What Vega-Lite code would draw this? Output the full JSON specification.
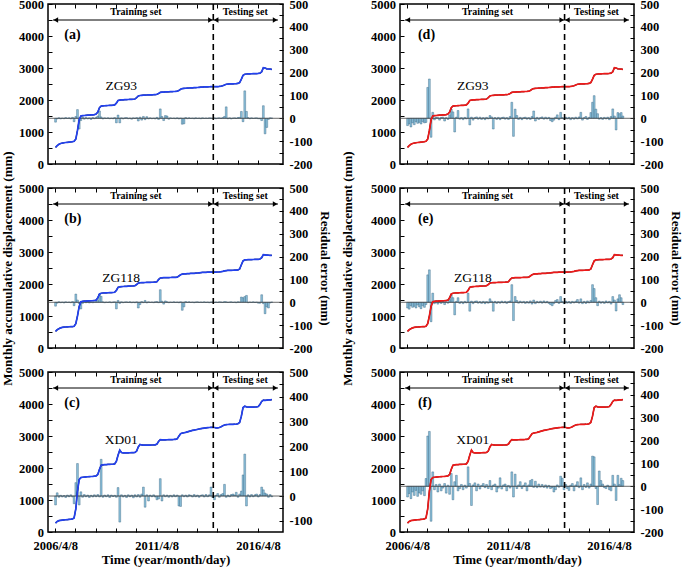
{
"$schema":"https://vega.github.io/schema/vega-lite/v6.json",
"padding":{"left":0,"top":-3,"right":2,"bottom":2},
"background":"white",
"datasets":{"m":[
{"t":"2006-04-15","a":520,"b":520,"c":280,"ra":-17,"rb":-17,"rc":-36,"rd":-32,"re":-25,"rf":-47},
{"t":"2006-05-15","a":575,"b":570,"c":330,"ra":-3,"rb":-4,"rc":13,"rd":-25,"re":-30,"rf":-32},
{"t":"2006-06-15","a":615,"b":605,"c":355,"ra":2,"rb":2,"rc":-5,"rd":-38,"re":-15,"rf":-54},
{"t":"2006-07-15","a":640,"b":628,"c":366,"ra":-3,"rb":-2,"rc":3,"rd":-20,"re":-22,"rf":-25},
{"t":"2006-08-15","a":655,"b":642,"c":372,"ra":1,"rb":1,"rc":-4,"rd":-28,"re":-18,"rf":-40},
{"t":"2006-09-15","a":665,"b":650,"c":377,"ra":-2,"rb":-3,"rc":2,"rd":-15,"re":-25,"rf":-18},
{"t":"2006-10-15","a":672,"b":656,"c":382,"ra":3,"rb":2,"rc":-6,"rd":-22,"re":-12,"rf":-44},
{"t":"2006-11-15","a":678,"b":660,"c":387,"ra":-1,"rb":-1,"rc":4,"rd":-18,"re":-20,"rf":-29},
{"t":"2006-12-15","a":684,"b":664,"c":392,"ra":2,"rb":1,"rc":-3,"rd":-25,"re":-28,"rf":-35},
{"t":"2007-01-15","a":690,"b":667,"c":398,"ra":-3,"rb":-2,"rc":5,"rd":-15,"re":-15,"rf":-20},
{"t":"2007-02-15","a":698,"b":670,"c":408,"ra":4,"rb":3,"rc":-4,"rd":-20,"re":-22,"rf":-41},
{"t":"2007-03-15","a":710,"b":680,"c":440,"ra":-15,"rb":-15,"rc":-31,"rd":-18,"re":-10,"rf":34},
{"t":"2007-04-15","a":780,"b":760,"c":720,"ra":8,"rb":36,"rc":54,"rd":135,"re":120,"rf":220},
{"t":"2007-05-15","a":1050,"b":1000,"c":1280,"ra":38,"rb":10,"rc":131,"rd":172,"re":142,"rf":240},
{"t":"2007-06-15","a":1380,"b":1300,"c":1640,"ra":-47,"rb":-6,"rc":-36,"rd":-83,"re":-85,"rf":-153},
{"t":"2007-07-15","a":1500,"b":1445,"c":1700,"ra":-10,"rb":-29,"rc":17,"rd":26,"re":40,"rf":63},
{"t":"2007-08-15","a":1510,"b":1458,"c":1710,"ra":5,"rb":-5,"rc":-5,"rd":-7,"re":-6,"rf":-15},
{"t":"2007-09-15","a":1515,"b":1463,"c":1716,"ra":-4,"rb":3,"rc":6,"rd":5,"re":5,"rf":8},
{"t":"2007-10-15","a":1520,"b":1467,"c":1721,"ra":3,"rb":-2,"rc":-3,"rd":3,"re":-8,"rf":-25},
{"t":"2007-11-15","a":1525,"b":1470,"c":1726,"ra":-3,"rb":2,"rc":4,"rd":-8,"re":4,"rf":10},
{"t":"2007-12-15","a":1530,"b":1473,"c":1731,"ra":2,"rb":-3,"rc":-6,"rd":4,"re":-5,"rf":-20},
{"t":"2008-01-15","a":1534,"b":1476,"c":1735,"ra":-5,"rb":1,"rc":3,"rd":5,"re":6,"rf":-8},
{"t":"2008-02-15","a":1538,"b":1479,"c":1739,"ra":3,"rb":-2,"rc":-4,"rd":-12,"re":-10,"rf":12},
{"t":"2008-03-15","a":1545,"b":1484,"c":1744,"ra":-2,"rb":2,"rc":5,"rd":3,"re":3,"rf":-30},
{"t":"2008-04-15","a":1560,"b":1495,"c":1752,"ra":4,"rb":3,"rc":-3,"rd":-5,"re":-4,"rf":5},
{"t":"2008-05-15","a":1620,"b":1570,"c":1800,"ra":10,"rb":8,"rc":6,"rd":15,"re":12,"rf":-35},
{"t":"2008-06-15","a":1760,"b":1690,"c":1960,"ra":32,"rb":36,"rc":-4,"rd":40,"re":33,"rf":56},
{"t":"2008-07-15","a":1810,"b":1712,"c":2085,"ra":6,"rb":26,"rc":148,"rd":28,"re":20,"rf":-59},
{"t":"2008-08-15","a":1815,"b":1718,"c":2098,"ra":-3,"rb":2,"rc":-5,"rd":-60,"re":-55,"rf":20},
{"t":"2008-09-15","a":1820,"b":1721,"c":2104,"ra":2,"rb":-2,"rc":4,"rd":5,"re":4,"rf":48},
{"t":"2008-10-15","a":1824,"b":1724,"c":2108,"ra":-1,"rb":1,"rc":-3,"rd":34,"re":20,"rf":-20},
{"t":"2008-11-15","a":1828,"b":1727,"c":2111,"ra":2,"rb":-1,"rc":5,"rd":-4,"re":-5,"rf":-10},
{"t":"2008-12-15","a":1831,"b":1730,"c":2114,"ra":-2,"rb":2,"rc":-6,"rd":3,"re":3,"rf":8},
{"t":"2009-01-15","a":1834,"b":1732,"c":2117,"ra":1,"rb":-2,"rc":4,"rd":-6,"re":-6,"rf":-15},
{"t":"2009-02-15","a":1837,"b":1735,"c":2120,"ra":-2,"rb":1,"rc":-2,"rd":4,"re":4,"rf":5},
{"t":"2009-03-15","a":1845,"b":1742,"c":2128,"ra":3,"rb":2,"rc":3,"rd":-3,"re":-3,"rf":-8},
{"t":"2009-04-15","a":1900,"b":1800,"c":2210,"ra":-20,"rb":-29,"rc":-5,"rd":41,"re":40,"rf":85},
{"t":"2009-05-15","a":1985,"b":1895,"c":2400,"ra":14,"rb":8,"rc":34,"rd":-29,"re":-39,"rf":12},
{"t":"2009-06-15","a":1998,"b":1913,"c":2560,"ra":-20,"rb":-5,"rc":-105,"rd":5,"re":5,"rf":-84},
{"t":"2009-07-15","a":2003,"b":1918,"c":2485,"ra":2,"rb":2,"rc":5,"rd":-8,"re":-6,"rf":6},
{"t":"2009-08-15","a":2006,"b":1922,"c":2472,"ra":-3,"rb":-2,"rc":-4,"rd":3,"re":4,"rf":15},
{"t":"2009-09-15","a":2009,"b":1925,"c":2471,"ra":2,"rb":1,"rc":3,"rd":6,"re":6,"rf":-20},
{"t":"2009-10-15","a":2012,"b":1928,"c":2472,"ra":3,"rb":2,"rc":-6,"rd":-4,"re":-4,"rf":10},
{"t":"2009-11-15","a":2015,"b":1931,"c":2474,"ra":-2,"rb":-1,"rc":5,"rd":5,"re":3,"rf":-12},
{"t":"2009-12-15","a":2018,"b":1934,"c":2476,"ra":1,"rb":2,"rc":-3,"rd":-5,"re":-5,"rf":4},
{"t":"2010-01-15","a":2021,"b":1937,"c":2478,"ra":-4,"rb":-2,"rc":4,"rd":3,"re":4,"rf":12},
{"t":"2010-02-15","a":2024,"b":1940,"c":2480,"ra":2,"rb":1,"rc":-7,"rd":-6,"re":-6,"rf":-6},
{"t":"2010-03-15","a":2030,"b":1945,"c":2486,"ra":-1,"rb":-2,"rc":5,"rd":4,"re":3,"rf":8},
{"t":"2010-04-15","a":2075,"b":1985,"c":2530,"ra":3,"rb":2,"rc":-4,"rd":-3,"re":-4,"rf":-10},
{"t":"2010-05-15","a":2125,"b":2028,"c":2660,"ra":-12,"rb":-25,"rc":6,"rd":12,"re":15,"rf":25},
{"t":"2010-06-15","a":2140,"b":2040,"c":2735,"ra":5,"rb":-10,"rc":-5,"rd":6,"re":5,"rf":-15},
{"t":"2010-07-15","a":2146,"b":2043,"c":2720,"ra":-8,"rb":3,"rc":8,"rd":-47,"re":-39,"rf":5},
{"t":"2010-08-15","a":2150,"b":2045,"c":2714,"ra":8,"rb":-2,"rc":36,"rd":3,"re":4,"rf":10},
{"t":"2010-09-15","a":2153,"b":2047,"c":2712,"ra":-6,"rb":8,"rc":-45,"rd":-5,"re":-5,"rf":-25},
{"t":"2010-10-15","a":2156,"b":2049,"c":2713,"ra":7,"rb":-3,"rc":5,"rd":4,"re":3,"rf":-8},
{"t":"2010-11-15","a":2158,"b":2051,"c":2715,"ra":-3,"rb":2,"rc":-20,"rd":-6,"re":-4,"rf":37},
{"t":"2010-12-15","a":2160,"b":2053,"c":2717,"ra":2,"rb":-1,"rc":4,"rd":3,"re":5,"rf":-12},
{"t":"2011-01-15","a":2163,"b":2055,"c":2719,"ra":-2,"rb":1,"rc":-3,"rd":5,"re":-3,"rf":6},
{"t":"2011-02-15","a":2166,"b":2057,"c":2721,"ra":1,"rb":-2,"rc":5,"rd":-4,"re":4,"rf":10},
{"t":"2011-03-15","a":2170,"b":2060,"c":2724,"ra":-3,"rb":2,"rc":-4,"rd":3,"re":-5,"rf":-20},
{"t":"2011-04-15","a":2178,"b":2070,"c":2745,"ra":4,"rb":3,"rc":-15,"rd":-5,"re":3,"rf":4},
{"t":"2011-05-15","a":2205,"b":2140,"c":2830,"ra":-5,"rb":-2,"rc":-12,"rd":8,"re":6,"rf":-8},
{"t":"2011-06-15","a":2238,"b":2188,"c":2885,"ra":41,"rb":55,"rc":70,"rd":70,"re":77,"rf":63},
{"t":"2011-07-15","a":2245,"b":2194,"c":2878,"ra":8,"rb":5,"rc":-20,"rd":-79,"re":-80,"rf":-47},
{"t":"2011-08-15","a":2248,"b":2197,"c":2879,"ra":-10,"rb":-8,"rc":5,"rd":40,"re":25,"rf":53},
{"t":"2011-09-15","a":2251,"b":2199,"c":2881,"ra":12,"rb":6,"rc":-3,"rd":12,"re":8,"rf":-10},
{"t":"2011-10-15","a":2254,"b":2200,"c":2883,"ra":10,"rb":2,"rc":4,"rd":-5,"re":-4,"rf":6},
{"t":"2011-11-15","a":2257,"b":2201,"c":2885,"ra":-4,"rb":-2,"rc":-5,"rd":4,"re":5,"rf":20},
{"t":"2011-12-15","a":2260,"b":2203,"c":2887,"ra":2,"rb":1,"rc":3,"rd":-6,"re":-3,"rf":-10},
{"t":"2012-01-15","a":2262,"b":2205,"c":2889,"ra":-1,"rb":-1,"rc":-4,"rd":3,"re":4,"rf":5},
{"t":"2012-02-15","a":2265,"b":2207,"c":2892,"ra":1,"rb":2,"rc":5,"rd":5,"re":-5,"rf":15},
{"t":"2012-03-15","a":2268,"b":2209,"c":2897,"ra":-2,"rb":-1,"rc":-3,"rd":-4,"re":3,"rf":-20},
{"t":"2012-04-15","a":2273,"b":2213,"c":2915,"ra":2,"rb":1,"rc":4,"rd":3,"re":-4,"rf":6},
{"t":"2012-05-15","a":2300,"b":2250,"c":2995,"ra":-3,"rb":-2,"rc":-40,"rd":-5,"re":6,"rf":25},
{"t":"2012-06-15","a":2335,"b":2290,"c":3070,"ra":1,"rb":2,"rc":-42,"rd":8,"re":-8,"rf":30},
{"t":"2012-07-15","a":2358,"b":2308,"c":3092,"ra":-26,"rb":-35,"rc":5,"rd":32,"re":10,"rf":-5},
{"t":"2012-08-15","a":2364,"b":2314,"c":3102,"ra":-24,"rb":-20,"rc":-3,"rd":-12,"re":-6,"rf":22},
{"t":"2012-09-15","a":2368,"b":2319,"c":3113,"ra":3,"rb":3,"rc":4,"rd":4,"re":4,"rf":-6},
{"t":"2012-10-15","a":2372,"b":2323,"c":3130,"ra":-2,"rb":-1,"rc":-4,"rd":-5,"re":-3,"rf":10},
{"t":"2012-11-15","a":2375,"b":2326,"c":3146,"ra":2,"rb":2,"rc":5,"rd":3,"re":5,"rf":-4},
{"t":"2012-12-15","a":2378,"b":2329,"c":3160,"ra":-1,"rb":-1,"rc":3,"rd":6,"re":-4,"rf":8},
{"t":"2013-01-15","a":2381,"b":2332,"c":3174,"ra":1,"rb":1,"rc":-4,"rd":-4,"re":6,"rf":-5},
{"t":"2013-02-15","a":2384,"b":2335,"c":3185,"ra":-2,"rb":-2,"rc":6,"rd":5,"re":-3,"rf":6},
{"t":"2013-03-15","a":2387,"b":2339,"c":3195,"ra":2,"rb":1,"rc":-3,"rd":-3,"re":4,"rf":-8},
{"t":"2013-04-15","a":2391,"b":2344,"c":3205,"ra":-1,"rb":2,"rc":4,"rd":4,"re":-5,"rf":4},
{"t":"2013-05-15","a":2396,"b":2350,"c":3218,"ra":1,"rb":-1,"rc":-5,"rd":-10,"re":-10,"rf":-10},
{"t":"2013-06-15","a":2401,"b":2356,"c":3230,"ra":-2,"rb":1,"rc":3,"rd":-15,"re":-15,"rf":-6},
{"t":"2013-07-15","a":2405,"b":2361,"c":3240,"ra":2,"rb":-1,"rc":5,"rd":-8,"re":-6,"rf":-25},
{"t":"2013-08-15","a":2408,"b":2364,"c":3248,"ra":-1,"rb":2,"rc":-4,"rd":5,"re":8,"rf":-15},
{"t":"2013-09-15","a":2410,"b":2366,"c":3255,"ra":1,"rb":-1,"rc":6,"rd":15,"re":12,"rf":6},
{"t":"2013-10-15","a":2412,"b":2368,"c":3260,"ra":-1,"rb":1,"rc":-3,"rd":-6,"re":-5,"rf":-4},
{"t":"2013-11-15","a":2414,"b":2369,"c":3266,"ra":2,"rb":-2,"rc":5,"rd":26,"re":25,"rf":44},
{"t":"2013-12-15","a":2416,"b":2370,"c":3271,"ra":1,"rb":1,"rc":36,"rd":3,"re":4,"rf":35},
{"t":"2014-01-15","a":2417,"b":2371,"c":3270,"ra":-1,"rb":2,"rc":-6,"rd":-4,"re":-6,"rf":-15},
{"t":"2014-02-15","a":2418,"b":2372,"c":3266,"ra":2,"rb":-1,"rc":-15,"rd":5,"re":5,"rf":8},
{"t":"2014-03-15","a":2419,"b":2373,"c":3255,"ra":-2,"rb":1,"rc":3,"rd":-3,"re":-4,"rf":-10},
{"t":"2014-04-15","a":2421,"b":2375,"c":3251,"ra":1,"rb":-1,"rc":10,"rd":4,"re":3,"rf":-18},
{"t":"2014-05-15","a":2425,"b":2379,"c":3264,"ra":2,"rb":2,"rc":-5,"rd":-6,"re":-5,"rf":5},
{"t":"2014-06-15","a":2433,"b":2386,"c":3290,"ra":-1,"rb":1,"rc":6,"rd":3,"re":4,"rf":12},
{"t":"2014-07-15","a":2445,"b":2396,"c":3320,"ra":3,"rb":-1,"rc":10,"rd":-4,"re":-3,"rf":-20},
{"t":"2014-08-15","a":2470,"b":2410,"c":3345,"ra":8,"rb":3,"rc":47,"rd":5,"re":5,"rf":6},
{"t":"2014-09-15","a":2492,"b":2420,"c":3355,"ra":50,"rb":2,"rc":-5,"rd":-3,"re":12,"rf":20},
{"t":"2014-10-15","a":2499,"b":2423,"c":3360,"ra":-2,"rb":-1,"rc":4,"rd":6,"re":-4,"rf":-6},
{"t":"2014-11-15","a":2502,"b":2425,"c":3362,"ra":2,"rb":1,"rc":-3,"rd":26,"re":15,"rf":37},
{"t":"2014-12-15","a":2504,"b":2427,"c":3364,"ra":-3,"rb":2,"rc":6,"rd":-8,"re":-6,"rf":-15},
{"t":"2015-01-15","a":2506,"b":2429,"c":3366,"ra":1,"rb":-1,"rc":8,"rd":3,"re":4,"rf":8},
{"t":"2015-02-15","a":2508,"b":2431,"c":3368,"ra":2,"rb":1,"rc":4,"rd":8,"re":-5,"rf":-5},
{"t":"2015-03-15","a":2511,"b":2433,"c":3371,"ra":-1,"rb":-2,"rc":15,"rd":-5,"re":6,"rf":15},
{"t":"2015-04-15","a":2518,"b":2440,"c":3382,"ra":3,"rb":2,"rc":-5,"rd":4,"re":-3,"rf":-8},
{"t":"2015-05-15","a":2545,"b":2470,"c":3425,"ra":4,"rb":1,"rc":8,"rd":25,"re":8,"rf":10},
{"t":"2015-06-15","a":2650,"b":2600,"c":3620,"ra":30,"rb":23,"rc":20,"rd":70,"re":77,"rf":132},
{"t":"2015-07-15","a":2770,"b":2720,"c":3890,"ra":-15,"rb":20,"rc":85,"rd":99,"re":60,"rf":129},
{"t":"2015-08-15","a":2805,"b":2752,"c":3930,"ra":120,"rb":25,"rc":169,"rd":40,"re":20,"rf":-10},
{"t":"2015-09-15","a":2812,"b":2757,"c":3912,"ra":30,"rb":30,"rc":-40,"rd":20,"re":-15,"rf":-80},
{"t":"2015-10-15","a":2816,"b":2760,"c":3904,"ra":3,"rb":-2,"rc":5,"rd":-4,"re":5,"rf":67},
{"t":"2015-11-15","a":2819,"b":2762,"c":3900,"ra":-2,"rb":1,"rc":-4,"rd":3,"re":-4,"rf":25},
{"t":"2015-12-15","a":2821,"b":2764,"c":3902,"ra":2,"rb":-1,"rc":6,"rd":-5,"re":3,"rf":10},
{"t":"2016-01-15","a":2823,"b":2766,"c":3904,"ra":-1,"rb":2,"rc":-3,"rd":4,"re":-5,"rf":-6},
{"t":"2016-02-15","a":2825,"b":2768,"c":3906,"ra":1,"rb":-1,"rc":5,"rd":-3,"re":6,"rf":-10},
{"t":"2016-03-15","a":2827,"b":2770,"c":3909,"ra":2,"rb":1,"rc":8,"rd":5,"re":-3,"rf":5},
{"t":"2016-04-15","a":2830,"b":2772,"c":3922,"ra":-2,"rb":-4,"rc":-4,"rd":-6,"re":4,"rf":-15},
{"t":"2016-05-15","a":2838,"b":2780,"c":3985,"ra":-2,"rb":-4,"rc":6,"rd":8,"re":-8,"rf":-20},
{"t":"2016-06-15","a":2880,"b":2820,"c":4080,"ra":-10,"rb":33,"rc":36,"rd":41,"re":25,"rf":48},
{"t":"2016-07-15","a":3010,"b":2920,"c":4122,"ra":55,"rb":-6,"rc":25,"rd":10,"re":10,"rf":10},
{"t":"2016-08-15","a":3000,"b":2912,"c":4112,"ra":-68,"rb":-50,"rc":12,"rd":-51,"re":-38,"rf":-62},
{"t":"2016-09-15","a":2975,"b":2905,"c":4120,"ra":-40,"rb":-20,"rc":8,"rd":25,"re":15,"rf":48},
{"t":"2016-10-15","a":2968,"b":2900,"c":4126,"ra":-5,"rb":-25,"rc":-5,"rd":20,"re":33,"rf":8},
{"t":"2016-11-15","a":2964,"b":2897,"c":4131,"ra":2,"rb":-3,"rc":6,"rd":25,"re":20,"rf":35},
{"t":"2016-12-15","a":2960,"b":2894,"c":4136,"ra":1,"rb":1,"rc":-3,"rd":10,"re":-10,"rf":25}
]},
"columns":2,
"spacing":{"row":24,"column":117},
"bounds":"flush",
"concat":[
{"width":235,"height":160,
 "resolve":{"scale":{"y":"independent"},"axis":{"x":"independent","y":"independent"}},
 "layer":[
  {"layer":[
   {"data":{"name":"m"},"mark":{"type":"bar","size":1.8,"fill":"#8ec3dd","stroke":"#2d5c78","strokeWidth":0.4},
    "encoding":{"x":{"field":"t","type":"temporal","scale":{"type":"utc","domain":[{"year":2006,"month":2,"date":28,"utc":true},{"year":2017,"month":4,"date":5,"utc":true}]},
      "axis":{"orient":"bottom","tickCount":100,"values":[{"year":2006,"month":4,"date":8,"utc":true},{"year":2007,"month":4,"date":8,"utc":true},{"year":2008,"month":4,"date":8,"utc":true},{"year":2009,"month":4,"date":8,"utc":true},{"year":2010,"month":4,"date":8,"utc":true},{"year":2011,"month":4,"date":8,"utc":true},{"year":2012,"month":4,"date":8,"utc":true},{"year":2013,"month":4,"date":8,"utc":true},{"year":2014,"month":4,"date":8,"utc":true},{"year":2015,"month":4,"date":8,"utc":true},{"year":2016,"month":4,"date":8,"utc":true}],"labels":false,"title":null}},
     "y":{"field":"ra","type":"quantitative","scale":{"domain":[-200,500],"nice":false},
      "axis":{"orient":"right","tickCount":100,"values":[-200,-150,-100,-50,0,50,100,150,200,250,300,350,400,450,500],"labelExpr":"datum.value % 100 == 0 ? '' + datum.value : ''","labelOverlap":false,"title":null}}}},
   {"data":{"values":[{}]},"mark":{"type":"rule","color":"#404040","strokeWidth":0.8},"encoding":{"y":{"datum":0,"type":"quantitative"}}}
  ]},
  {"layer":[
   {"data":{"name":"m"},"mark":{"type":"line","color":"black","strokeWidth":1.2},
    "encoding":{"x":{"field":"t","type":"temporal","axis":{"orient":"top","tickCount":100,"values":[{"year":2006,"month":4,"date":8,"utc":true},{"year":2007,"month":4,"date":8,"utc":true},{"year":2008,"month":4,"date":8,"utc":true},{"year":2009,"month":4,"date":8,"utc":true},{"year":2010,"month":4,"date":8,"utc":true},{"year":2011,"month":4,"date":8,"utc":true},{"year":2012,"month":4,"date":8,"utc":true},{"year":2013,"month":4,"date":8,"utc":true},{"year":2014,"month":4,"date":8,"utc":true},{"year":2015,"month":4,"date":8,"utc":true},{"year":2016,"month":4,"date":8,"utc":true}],"labels":false,"title":null}},
     "y":{"field":"a","type":"quantitative","scale":{"domain":[0,5000],"nice":false},
      "axis":{"orient":"left","tickCount":100,"values":[0,500,1000,1500,2000,2500,3000,3500,4000,4500,5000],"labelExpr":"datum.value % 1000 == 0 ? '' + datum.value : ''","labelOverlap":false,"title":null}}}},
   {"data":{"name":"m"},"mark":{"type":"line","color":"#2342f0","strokeWidth":1.7},
    "encoding":{"x":{"field":"t","type":"temporal"},"y":{"field":"a","type":"quantitative"}}},
   {"data":{"values":[{}]},"mark":{"type":"rule","color":"black","strokeWidth":1.6,"strokeDash":[6,4]},
    "encoding":{"x":{"datum":{"year":2014,"month":1,"date":25,"utc":true},"type":"temporal"}}},
   {"data":{"values":[{}]},"mark":{"type":"rule","color":"black","strokeWidth":1},
    "encoding":{"x":{"datum":{"year":2006,"month":2,"date":28,"utc":true},"type":"temporal"},"x2":{"datum":{"year":2017,"month":4,"date":5,"utc":true}},"y":{"datum":4500,"type":"quantitative"}}},
   {"data":{"values":[{}]},"mark":{"type":"point","shape":"triangle-left","filled":true,"color":"black","opacity":1,"size":28},
    "encoding":{"x":{"datum":{"year":2006,"month":4,"date":20,"utc":true},"type":"temporal"},"y":{"datum":4500,"type":"quantitative"}}},
   {"data":{"values":[{}]},"mark":{"type":"point","shape":"triangle-right","filled":true,"color":"black","opacity":1,"size":28},
    "encoding":{"x":{"datum":{"year":2013,"month":12,"date":4,"utc":true},"type":"temporal"},"y":{"datum":4500,"type":"quantitative"}}},
   {"data":{"values":[{}]},"mark":{"type":"point","shape":"triangle-left","filled":true,"color":"black","opacity":1,"size":28},
    "encoding":{"x":{"datum":{"year":2014,"month":3,"date":17,"utc":true},"type":"temporal"},"y":{"datum":4500,"type":"quantitative"}}},
   {"data":{"values":[{}]},"mark":{"type":"point","shape":"triangle-right","filled":true,"color":"black","opacity":1,"size":28},
    "encoding":{"x":{"datum":{"year":2017,"month":2,"date":12,"utc":true},"type":"temporal"},"y":{"datum":4500,"type":"quantitative"}}},
   {"data":{"values":[{}]},"mark":{"type":"text","text":"Training set","font":"Liberation Serif","fontWeight":"bold","fontSize":10,"color":"black"},
    "encoding":{"x":{"datum":{"year":2010,"month":4,"date":1,"utc":true},"type":"temporal"},"y":{"datum":4740,"type":"quantitative"}}},
   {"data":{"values":[{}]},"mark":{"type":"text","text":"Testing set","font":"Liberation Serif","fontWeight":"bold","fontSize":10,"color":"black"},
    "encoding":{"x":{"datum":{"year":2015,"month":8,"date":25,"utc":true},"type":"temporal"},"y":{"datum":4740,"type":"quantitative"}}},
   {"data":{"values":[{}]},"mark":{"type":"text","text":"(a)","font":"Liberation Serif","fontWeight":"bold","fontSize":14,"align":"left","color":"black"},
    "encoding":{"x":{"datum":{"year":2006,"month":9,"date":20,"utc":true},"type":"temporal"},"y":{"datum":4040,"type":"quantitative"}}},
   {"data":{"values":[{}]},"mark":{"type":"text","text":"ZG93","font":"Liberation Serif","fontSize":13.5,"color":"black"},
    "encoding":{"x":{"datum":{"year":2009,"month":7,"date":10,"utc":true},"type":"temporal"},"y":{"datum":2430,"type":"quantitative"}}}
  ]}
 ]},
{"width":234,"height":160,
 "resolve":{"scale":{"y":"independent"},"axis":{"x":"independent","y":"independent"}},
 "layer":[
  {"layer":[
   {"data":{"name":"m"},"mark":{"type":"bar","size":1.8,"fill":"#8ec3dd","stroke":"#2d5c78","strokeWidth":0.4},
    "encoding":{"x":{"field":"t","type":"temporal","scale":{"type":"utc","domain":[{"year":2006,"month":2,"date":28,"utc":true},{"year":2017,"month":4,"date":5,"utc":true}]},
      "axis":{"orient":"bottom","tickCount":100,"values":[{"year":2006,"month":4,"date":8,"utc":true},{"year":2007,"month":4,"date":8,"utc":true},{"year":2008,"month":4,"date":8,"utc":true},{"year":2009,"month":4,"date":8,"utc":true},{"year":2010,"month":4,"date":8,"utc":true},{"year":2011,"month":4,"date":8,"utc":true},{"year":2012,"month":4,"date":8,"utc":true},{"year":2013,"month":4,"date":8,"utc":true},{"year":2014,"month":4,"date":8,"utc":true},{"year":2015,"month":4,"date":8,"utc":true},{"year":2016,"month":4,"date":8,"utc":true}],"labels":false,"title":null}},
     "y":{"field":"rd","type":"quantitative","scale":{"domain":[-200,500],"nice":false},
      "axis":{"orient":"right","tickCount":100,"values":[-200,-150,-100,-50,0,50,100,150,200,250,300,350,400,450,500],"labelExpr":"datum.value % 100 == 0 ? '' + datum.value : ''","labelOverlap":false,"title":null}}}},
   {"data":{"values":[{}]},"mark":{"type":"rule","color":"#404040","strokeWidth":0.8},"encoding":{"y":{"datum":0,"type":"quantitative"}}}
  ]},
  {"layer":[
   {"data":{"name":"m"},"mark":{"type":"line","color":"black","strokeWidth":1.2},
    "encoding":{"x":{"field":"t","type":"temporal","axis":{"orient":"top","tickCount":100,"values":[{"year":2006,"month":4,"date":8,"utc":true},{"year":2007,"month":4,"date":8,"utc":true},{"year":2008,"month":4,"date":8,"utc":true},{"year":2009,"month":4,"date":8,"utc":true},{"year":2010,"month":4,"date":8,"utc":true},{"year":2011,"month":4,"date":8,"utc":true},{"year":2012,"month":4,"date":8,"utc":true},{"year":2013,"month":4,"date":8,"utc":true},{"year":2014,"month":4,"date":8,"utc":true},{"year":2015,"month":4,"date":8,"utc":true},{"year":2016,"month":4,"date":8,"utc":true}],"labels":false,"title":null}},
     "y":{"field":"a","type":"quantitative","scale":{"domain":[0,5000],"nice":false},
      "axis":{"orient":"left","tickCount":100,"values":[0,500,1000,1500,2000,2500,3000,3500,4000,4500,5000],"labelExpr":"datum.value % 1000 == 0 ? '' + datum.value : ''","labelOverlap":false,"title":null}}}},
   {"data":{"name":"m"},"mark":{"type":"line","color":"#ee1a1a","strokeWidth":1.7},
    "encoding":{"x":{"field":"t","type":"temporal"},"y":{"field":"a","type":"quantitative"}}},
   {"data":{"values":[{}]},"mark":{"type":"rule","color":"black","strokeWidth":1.6,"strokeDash":[6,4]},
    "encoding":{"x":{"datum":{"year":2014,"month":1,"date":25,"utc":true},"type":"temporal"}}},
   {"data":{"values":[{}]},"mark":{"type":"rule","color":"black","strokeWidth":1},
    "encoding":{"x":{"datum":{"year":2006,"month":2,"date":28,"utc":true},"type":"temporal"},"x2":{"datum":{"year":2017,"month":4,"date":5,"utc":true}},"y":{"datum":4500,"type":"quantitative"}}},
   {"data":{"values":[{}]},"mark":{"type":"point","shape":"triangle-left","filled":true,"color":"black","opacity":1,"size":28},
    "encoding":{"x":{"datum":{"year":2006,"month":4,"date":20,"utc":true},"type":"temporal"},"y":{"datum":4500,"type":"quantitative"}}},
   {"data":{"values":[{}]},"mark":{"type":"point","shape":"triangle-right","filled":true,"color":"black","opacity":1,"size":28},
    "encoding":{"x":{"datum":{"year":2013,"month":12,"date":4,"utc":true},"type":"temporal"},"y":{"datum":4500,"type":"quantitative"}}},
   {"data":{"values":[{}]},"mark":{"type":"point","shape":"triangle-left","filled":true,"color":"black","opacity":1,"size":28},
    "encoding":{"x":{"datum":{"year":2014,"month":3,"date":17,"utc":true},"type":"temporal"},"y":{"datum":4500,"type":"quantitative"}}},
   {"data":{"values":[{}]},"mark":{"type":"point","shape":"triangle-right","filled":true,"color":"black","opacity":1,"size":28},
    "encoding":{"x":{"datum":{"year":2017,"month":2,"date":12,"utc":true},"type":"temporal"},"y":{"datum":4500,"type":"quantitative"}}},
   {"data":{"values":[{}]},"mark":{"type":"text","text":"Training set","font":"Liberation Serif","fontWeight":"bold","fontSize":10,"color":"black"},
    "encoding":{"x":{"datum":{"year":2010,"month":4,"date":1,"utc":true},"type":"temporal"},"y":{"datum":4740,"type":"quantitative"}}},
   {"data":{"values":[{}]},"mark":{"type":"text","text":"Testing set","font":"Liberation Serif","fontWeight":"bold","fontSize":10,"color":"black"},
    "encoding":{"x":{"datum":{"year":2015,"month":8,"date":25,"utc":true},"type":"temporal"},"y":{"datum":4740,"type":"quantitative"}}},
   {"data":{"values":[{}]},"mark":{"type":"text","text":"(d)","font":"Liberation Serif","fontWeight":"bold","fontSize":14,"align":"left","color":"black"},
    "encoding":{"x":{"datum":{"year":2006,"month":10,"date":20,"utc":true},"type":"temporal"},"y":{"datum":4040,"type":"quantitative"}}},
   {"data":{"values":[{}]},"mark":{"type":"text","text":"ZG93","font":"Liberation Serif","fontSize":13.5,"color":"black"},
    "encoding":{"x":{"datum":{"year":2009,"month":7,"date":10,"utc":true},"type":"temporal"},"y":{"datum":2430,"type":"quantitative"}}}
  ]}
 ]},
{"width":235,"height":160,
 "resolve":{"scale":{"y":"independent"},"axis":{"x":"independent","y":"independent"}},
 "layer":[
  {"layer":[
   {"data":{"name":"m"},"mark":{"type":"bar","size":1.8,"fill":"#8ec3dd","stroke":"#2d5c78","strokeWidth":0.4},
    "encoding":{"x":{"field":"t","type":"temporal","scale":{"type":"utc","domain":[{"year":2006,"month":2,"date":28,"utc":true},{"year":2017,"month":4,"date":5,"utc":true}]},
      "axis":{"orient":"bottom","tickCount":100,"values":[{"year":2006,"month":4,"date":8,"utc":true},{"year":2007,"month":4,"date":8,"utc":true},{"year":2008,"month":4,"date":8,"utc":true},{"year":2009,"month":4,"date":8,"utc":true},{"year":2010,"month":4,"date":8,"utc":true},{"year":2011,"month":4,"date":8,"utc":true},{"year":2012,"month":4,"date":8,"utc":true},{"year":2013,"month":4,"date":8,"utc":true},{"year":2014,"month":4,"date":8,"utc":true},{"year":2015,"month":4,"date":8,"utc":true},{"year":2016,"month":4,"date":8,"utc":true}],"labels":false,"title":null}},
     "y":{"field":"rb","type":"quantitative","scale":{"domain":[-200,500],"nice":false},
      "axis":{"orient":"right","tickCount":100,"values":[-200,-150,-100,-50,0,50,100,150,200,250,300,350,400,450,500],"labelExpr":"datum.value % 100 == 0 ? '' + datum.value : ''","labelOverlap":false,"title":"Residual error (mm)","titlePadding":6}}}},
   {"data":{"values":[{}]},"mark":{"type":"rule","color":"#404040","strokeWidth":0.8},"encoding":{"y":{"datum":0,"type":"quantitative"}}}
  ]},
  {"layer":[
   {"data":{"name":"m"},"mark":{"type":"line","color":"black","strokeWidth":1.2},
    "encoding":{"x":{"field":"t","type":"temporal","axis":{"orient":"top","tickCount":100,"values":[{"year":2006,"month":4,"date":8,"utc":true},{"year":2007,"month":4,"date":8,"utc":true},{"year":2008,"month":4,"date":8,"utc":true},{"year":2009,"month":4,"date":8,"utc":true},{"year":2010,"month":4,"date":8,"utc":true},{"year":2011,"month":4,"date":8,"utc":true},{"year":2012,"month":4,"date":8,"utc":true},{"year":2013,"month":4,"date":8,"utc":true},{"year":2014,"month":4,"date":8,"utc":true},{"year":2015,"month":4,"date":8,"utc":true},{"year":2016,"month":4,"date":8,"utc":true}],"labels":false,"title":null}},
     "y":{"field":"b","type":"quantitative","scale":{"domain":[0,5000],"nice":false},
      "axis":{"orient":"left","tickCount":100,"values":[0,500,1000,1500,2000,2500,3000,3500,4000,4500,5000],"labelExpr":"datum.value % 1000 == 0 ? '' + datum.value : ''","labelOverlap":false,"title":"Monthly accumulative displacement (mm)","titlePadding":4}}}},
   {"data":{"name":"m"},"mark":{"type":"line","color":"#2342f0","strokeWidth":1.7},
    "encoding":{"x":{"field":"t","type":"temporal"},"y":{"field":"b","type":"quantitative"}}},
   {"data":{"values":[{}]},"mark":{"type":"rule","color":"black","strokeWidth":1.6,"strokeDash":[6,4]},
    "encoding":{"x":{"datum":{"year":2014,"month":1,"date":25,"utc":true},"type":"temporal"}}},
   {"data":{"values":[{}]},"mark":{"type":"rule","color":"black","strokeWidth":1},
    "encoding":{"x":{"datum":{"year":2006,"month":2,"date":28,"utc":true},"type":"temporal"},"x2":{"datum":{"year":2017,"month":4,"date":5,"utc":true}},"y":{"datum":4500,"type":"quantitative"}}},
   {"data":{"values":[{}]},"mark":{"type":"point","shape":"triangle-left","filled":true,"color":"black","opacity":1,"size":28},
    "encoding":{"x":{"datum":{"year":2006,"month":4,"date":20,"utc":true},"type":"temporal"},"y":{"datum":4500,"type":"quantitative"}}},
   {"data":{"values":[{}]},"mark":{"type":"point","shape":"triangle-right","filled":true,"color":"black","opacity":1,"size":28},
    "encoding":{"x":{"datum":{"year":2013,"month":12,"date":4,"utc":true},"type":"temporal"},"y":{"datum":4500,"type":"quantitative"}}},
   {"data":{"values":[{}]},"mark":{"type":"point","shape":"triangle-left","filled":true,"color":"black","opacity":1,"size":28},
    "encoding":{"x":{"datum":{"year":2014,"month":3,"date":17,"utc":true},"type":"temporal"},"y":{"datum":4500,"type":"quantitative"}}},
   {"data":{"values":[{}]},"mark":{"type":"point","shape":"triangle-right","filled":true,"color":"black","opacity":1,"size":28},
    "encoding":{"x":{"datum":{"year":2017,"month":2,"date":12,"utc":true},"type":"temporal"},"y":{"datum":4500,"type":"quantitative"}}},
   {"data":{"values":[{}]},"mark":{"type":"text","text":"Training set","font":"Liberation Serif","fontWeight":"bold","fontSize":10,"color":"black"},
    "encoding":{"x":{"datum":{"year":2010,"month":4,"date":1,"utc":true},"type":"temporal"},"y":{"datum":4740,"type":"quantitative"}}},
   {"data":{"values":[{}]},"mark":{"type":"text","text":"Testing set","font":"Liberation Serif","fontWeight":"bold","fontSize":10,"color":"black"},
    "encoding":{"x":{"datum":{"year":2015,"month":8,"date":25,"utc":true},"type":"temporal"},"y":{"datum":4740,"type":"quantitative"}}},
   {"data":{"values":[{}]},"mark":{"type":"text","text":"(b)","font":"Liberation Serif","fontWeight":"bold","fontSize":14,"align":"left","color":"black"},
    "encoding":{"x":{"datum":{"year":2006,"month":9,"date":20,"utc":true},"type":"temporal"},"y":{"datum":4020,"type":"quantitative"}}},
   {"data":{"values":[{}]},"mark":{"type":"text","text":"ZG118","font":"Liberation Serif","fontSize":13.5,"color":"black"},
    "encoding":{"x":{"datum":{"year":2009,"month":7,"date":10,"utc":true},"type":"temporal"},"y":{"datum":2190,"type":"quantitative"}}}
  ]}
 ]},
{"width":234,"height":160,
 "resolve":{"scale":{"y":"independent"},"axis":{"x":"independent","y":"independent"}},
 "layer":[
  {"layer":[
   {"data":{"name":"m"},"mark":{"type":"bar","size":1.8,"fill":"#8ec3dd","stroke":"#2d5c78","strokeWidth":0.4},
    "encoding":{"x":{"field":"t","type":"temporal","scale":{"type":"utc","domain":[{"year":2006,"month":2,"date":28,"utc":true},{"year":2017,"month":4,"date":5,"utc":true}]},
      "axis":{"orient":"bottom","tickCount":100,"values":[{"year":2006,"month":4,"date":8,"utc":true},{"year":2007,"month":4,"date":8,"utc":true},{"year":2008,"month":4,"date":8,"utc":true},{"year":2009,"month":4,"date":8,"utc":true},{"year":2010,"month":4,"date":8,"utc":true},{"year":2011,"month":4,"date":8,"utc":true},{"year":2012,"month":4,"date":8,"utc":true},{"year":2013,"month":4,"date":8,"utc":true},{"year":2014,"month":4,"date":8,"utc":true},{"year":2015,"month":4,"date":8,"utc":true},{"year":2016,"month":4,"date":8,"utc":true}],"labels":false,"title":null}},
     "y":{"field":"re","type":"quantitative","scale":{"domain":[-200,500],"nice":false},
      "axis":{"orient":"right","tickCount":100,"values":[-200,-150,-100,-50,0,50,100,150,200,250,300,350,400,450,500],"labelExpr":"datum.value % 100 == 0 ? '' + datum.value : ''","labelOverlap":false,"title":"Residual error (mm)","titlePadding":6}}}},
   {"data":{"values":[{}]},"mark":{"type":"rule","color":"#404040","strokeWidth":0.8},"encoding":{"y":{"datum":0,"type":"quantitative"}}}
  ]},
  {"layer":[
   {"data":{"name":"m"},"mark":{"type":"line","color":"black","strokeWidth":1.2},
    "encoding":{"x":{"field":"t","type":"temporal","axis":{"orient":"top","tickCount":100,"values":[{"year":2006,"month":4,"date":8,"utc":true},{"year":2007,"month":4,"date":8,"utc":true},{"year":2008,"month":4,"date":8,"utc":true},{"year":2009,"month":4,"date":8,"utc":true},{"year":2010,"month":4,"date":8,"utc":true},{"year":2011,"month":4,"date":8,"utc":true},{"year":2012,"month":4,"date":8,"utc":true},{"year":2013,"month":4,"date":8,"utc":true},{"year":2014,"month":4,"date":8,"utc":true},{"year":2015,"month":4,"date":8,"utc":true},{"year":2016,"month":4,"date":8,"utc":true}],"labels":false,"title":null}},
     "y":{"field":"b","type":"quantitative","scale":{"domain":[0,5000],"nice":false},
      "axis":{"orient":"left","tickCount":100,"values":[0,500,1000,1500,2000,2500,3000,3500,4000,4500,5000],"labelExpr":"datum.value % 1000 == 0 ? '' + datum.value : ''","labelOverlap":false,"title":"Monthly accumulative displacement (mm)","titlePadding":16}}}},
   {"data":{"name":"m"},"mark":{"type":"line","color":"#ee1a1a","strokeWidth":1.7},
    "encoding":{"x":{"field":"t","type":"temporal"},"y":{"field":"b","type":"quantitative"}}},
   {"data":{"values":[{}]},"mark":{"type":"rule","color":"black","strokeWidth":1.6,"strokeDash":[6,4]},
    "encoding":{"x":{"datum":{"year":2014,"month":1,"date":25,"utc":true},"type":"temporal"}}},
   {"data":{"values":[{}]},"mark":{"type":"rule","color":"black","strokeWidth":1},
    "encoding":{"x":{"datum":{"year":2006,"month":2,"date":28,"utc":true},"type":"temporal"},"x2":{"datum":{"year":2017,"month":4,"date":5,"utc":true}},"y":{"datum":4500,"type":"quantitative"}}},
   {"data":{"values":[{}]},"mark":{"type":"point","shape":"triangle-left","filled":true,"color":"black","opacity":1,"size":28},
    "encoding":{"x":{"datum":{"year":2006,"month":4,"date":20,"utc":true},"type":"temporal"},"y":{"datum":4500,"type":"quantitative"}}},
   {"data":{"values":[{}]},"mark":{"type":"point","shape":"triangle-right","filled":true,"color":"black","opacity":1,"size":28},
    "encoding":{"x":{"datum":{"year":2013,"month":12,"date":4,"utc":true},"type":"temporal"},"y":{"datum":4500,"type":"quantitative"}}},
   {"data":{"values":[{}]},"mark":{"type":"point","shape":"triangle-left","filled":true,"color":"black","opacity":1,"size":28},
    "encoding":{"x":{"datum":{"year":2014,"month":3,"date":17,"utc":true},"type":"temporal"},"y":{"datum":4500,"type":"quantitative"}}},
   {"data":{"values":[{}]},"mark":{"type":"point","shape":"triangle-right","filled":true,"color":"black","opacity":1,"size":28},
    "encoding":{"x":{"datum":{"year":2017,"month":2,"date":12,"utc":true},"type":"temporal"},"y":{"datum":4500,"type":"quantitative"}}},
   {"data":{"values":[{}]},"mark":{"type":"text","text":"Training set","font":"Liberation Serif","fontWeight":"bold","fontSize":10,"color":"black"},
    "encoding":{"x":{"datum":{"year":2010,"month":4,"date":1,"utc":true},"type":"temporal"},"y":{"datum":4740,"type":"quantitative"}}},
   {"data":{"values":[{}]},"mark":{"type":"text","text":"Testing set","font":"Liberation Serif","fontWeight":"bold","fontSize":10,"color":"black"},
    "encoding":{"x":{"datum":{"year":2015,"month":8,"date":25,"utc":true},"type":"temporal"},"y":{"datum":4740,"type":"quantitative"}}},
   {"data":{"values":[{}]},"mark":{"type":"text","text":"(e)","font":"Liberation Serif","fontWeight":"bold","fontSize":14,"align":"left","color":"black"},
    "encoding":{"x":{"datum":{"year":2006,"month":10,"date":20,"utc":true},"type":"temporal"},"y":{"datum":4020,"type":"quantitative"}}},
   {"data":{"values":[{}]},"mark":{"type":"text","text":"ZG118","font":"Liberation Serif","fontSize":13.5,"color":"black"},
    "encoding":{"x":{"datum":{"year":2009,"month":7,"date":10,"utc":true},"type":"temporal"},"y":{"datum":2180,"type":"quantitative"}}}
  ]}
 ]},
{"width":235,"height":160,
 "resolve":{"scale":{"y":"independent"},"axis":{"x":"independent","y":"independent"}},
 "layer":[
  {"layer":[
   {"data":{"name":"m"},"mark":{"type":"bar","size":1.8,"fill":"#8ec3dd","stroke":"#2d5c78","strokeWidth":0.4},
    "encoding":{"x":{"field":"t","type":"temporal","scale":{"type":"utc","domain":[{"year":2006,"month":2,"date":28,"utc":true},{"year":2017,"month":4,"date":5,"utc":true}]},
      "axis":{"orient":"bottom","tickCount":100,"values":[{"year":2006,"month":4,"date":8,"utc":true},{"year":2007,"month":4,"date":8,"utc":true},{"year":2008,"month":4,"date":8,"utc":true},{"year":2009,"month":4,"date":8,"utc":true},{"year":2010,"month":4,"date":8,"utc":true},{"year":2011,"month":4,"date":8,"utc":true},{"year":2012,"month":4,"date":8,"utc":true},{"year":2013,"month":4,"date":8,"utc":true},{"year":2014,"month":4,"date":8,"utc":true},{"year":2015,"month":4,"date":8,"utc":true},{"year":2016,"month":4,"date":8,"utc":true}],"labelExpr":"utcyear(datum.value) % 5 == 1 ? utcFormat(datum.value, '%Y/%-m/%-d') : ''","labelOverlap":false,"title":"Time (year/month/day)"}},
     "y":{"field":"rc","type":"quantitative","scale":{"domain":[-145,500],"nice":false},
      "axis":{"orient":"right","tickCount":100,"values":[-100,-50,0,50,100,150,200,250,300,350,400,450,500],"labelExpr":"datum.value % 100 == 0 ? '' + datum.value : ''","labelOverlap":false,"title":null}}}},
   {"data":{"values":[{}]},"mark":{"type":"rule","color":"#404040","strokeWidth":0.8},"encoding":{"y":{"datum":0,"type":"quantitative"}}}
  ]},
  {"layer":[
   {"data":{"name":"m"},"mark":{"type":"line","color":"black","strokeWidth":1.2},
    "encoding":{"x":{"field":"t","type":"temporal","axis":{"orient":"top","tickCount":100,"values":[{"year":2006,"month":4,"date":8,"utc":true},{"year":2007,"month":4,"date":8,"utc":true},{"year":2008,"month":4,"date":8,"utc":true},{"year":2009,"month":4,"date":8,"utc":true},{"year":2010,"month":4,"date":8,"utc":true},{"year":2011,"month":4,"date":8,"utc":true},{"year":2012,"month":4,"date":8,"utc":true},{"year":2013,"month":4,"date":8,"utc":true},{"year":2014,"month":4,"date":8,"utc":true},{"year":2015,"month":4,"date":8,"utc":true},{"year":2016,"month":4,"date":8,"utc":true}],"labels":false,"title":null}},
     "y":{"field":"c","type":"quantitative","scale":{"domain":[0,5000],"nice":false},
      "axis":{"orient":"left","tickCount":100,"values":[0,500,1000,1500,2000,2500,3000,3500,4000,4500,5000],"labelExpr":"datum.value % 1000 == 0 ? '' + datum.value : ''","labelOverlap":false,"title":null}}}},
   {"data":{"name":"m"},"mark":{"type":"line","color":"#2342f0","strokeWidth":1.7},
    "encoding":{"x":{"field":"t","type":"temporal"},"y":{"field":"c","type":"quantitative"}}},
   {"data":{"values":[{}]},"mark":{"type":"rule","color":"black","strokeWidth":1.6,"strokeDash":[6,4]},
    "encoding":{"x":{"datum":{"year":2014,"month":1,"date":25,"utc":true},"type":"temporal"}}},
   {"data":{"values":[{}]},"mark":{"type":"rule","color":"black","strokeWidth":1},
    "encoding":{"x":{"datum":{"year":2006,"month":2,"date":28,"utc":true},"type":"temporal"},"x2":{"datum":{"year":2017,"month":4,"date":5,"utc":true}},"y":{"datum":4500,"type":"quantitative"}}},
   {"data":{"values":[{}]},"mark":{"type":"point","shape":"triangle-left","filled":true,"color":"black","opacity":1,"size":28},
    "encoding":{"x":{"datum":{"year":2006,"month":4,"date":20,"utc":true},"type":"temporal"},"y":{"datum":4500,"type":"quantitative"}}},
   {"data":{"values":[{}]},"mark":{"type":"point","shape":"triangle-right","filled":true,"color":"black","opacity":1,"size":28},
    "encoding":{"x":{"datum":{"year":2013,"month":12,"date":4,"utc":true},"type":"temporal"},"y":{"datum":4500,"type":"quantitative"}}},
   {"data":{"values":[{}]},"mark":{"type":"point","shape":"triangle-left","filled":true,"color":"black","opacity":1,"size":28},
    "encoding":{"x":{"datum":{"year":2014,"month":3,"date":17,"utc":true},"type":"temporal"},"y":{"datum":4500,"type":"quantitative"}}},
   {"data":{"values":[{}]},"mark":{"type":"point","shape":"triangle-right","filled":true,"color":"black","opacity":1,"size":28},
    "encoding":{"x":{"datum":{"year":2017,"month":2,"date":12,"utc":true},"type":"temporal"},"y":{"datum":4500,"type":"quantitative"}}},
   {"data":{"values":[{}]},"mark":{"type":"text","text":"Training set","font":"Liberation Serif","fontWeight":"bold","fontSize":10,"color":"black"},
    "encoding":{"x":{"datum":{"year":2010,"month":4,"date":1,"utc":true},"type":"temporal"},"y":{"datum":4740,"type":"quantitative"}}},
   {"data":{"values":[{}]},"mark":{"type":"text","text":"Testing set","font":"Liberation Serif","fontWeight":"bold","fontSize":10,"color":"black"},
    "encoding":{"x":{"datum":{"year":2015,"month":8,"date":25,"utc":true},"type":"temporal"},"y":{"datum":4740,"type":"quantitative"}}},
   {"data":{"values":[{}]},"mark":{"type":"text","text":"(c)","font":"Liberation Serif","fontWeight":"bold","fontSize":14,"align":"left","color":"black"},
    "encoding":{"x":{"datum":{"year":2006,"month":9,"date":20,"utc":true},"type":"temporal"},"y":{"datum":4030,"type":"quantitative"}}},
   {"data":{"values":[{}]},"mark":{"type":"text","text":"XD01","font":"Liberation Serif","fontSize":13.5,"color":"black"},
    "encoding":{"x":{"datum":{"year":2009,"month":7,"date":10,"utc":true},"type":"temporal"},"y":{"datum":2870,"type":"quantitative"}}}
  ]}
 ]},
{"width":234,"height":160,
 "resolve":{"scale":{"y":"independent"},"axis":{"x":"independent","y":"independent"}},
 "layer":[
  {"layer":[
   {"data":{"name":"m"},"mark":{"type":"bar","size":1.8,"fill":"#8ec3dd","stroke":"#2d5c78","strokeWidth":0.4},
    "encoding":{"x":{"field":"t","type":"temporal","scale":{"type":"utc","domain":[{"year":2006,"month":2,"date":28,"utc":true},{"year":2017,"month":4,"date":5,"utc":true}]},
      "axis":{"orient":"bottom","tickCount":100,"values":[{"year":2006,"month":4,"date":8,"utc":true},{"year":2007,"month":4,"date":8,"utc":true},{"year":2008,"month":4,"date":8,"utc":true},{"year":2009,"month":4,"date":8,"utc":true},{"year":2010,"month":4,"date":8,"utc":true},{"year":2011,"month":4,"date":8,"utc":true},{"year":2012,"month":4,"date":8,"utc":true},{"year":2013,"month":4,"date":8,"utc":true},{"year":2014,"month":4,"date":8,"utc":true},{"year":2015,"month":4,"date":8,"utc":true},{"year":2016,"month":4,"date":8,"utc":true}],"labelExpr":"utcyear(datum.value) % 5 == 1 ? utcFormat(datum.value, '%Y/%-m/%-d') : ''","labelOverlap":false,"title":"Time (year/month/day)"}},
     "y":{"field":"rf","type":"quantitative","scale":{"domain":[-200,500],"nice":false},
      "axis":{"orient":"right","tickCount":100,"values":[-200,-150,-100,-50,0,50,100,150,200,250,300,350,400,450,500],"labelExpr":"datum.value % 100 == 0 ? '' + datum.value : ''","labelOverlap":false,"title":null}}}},
   {"data":{"values":[{}]},"mark":{"type":"rule","color":"#404040","strokeWidth":0.8},"encoding":{"y":{"datum":0,"type":"quantitative"}}}
  ]},
  {"layer":[
   {"data":{"name":"m"},"mark":{"type":"line","color":"black","strokeWidth":1.2},
    "encoding":{"x":{"field":"t","type":"temporal","axis":{"orient":"top","tickCount":100,"values":[{"year":2006,"month":4,"date":8,"utc":true},{"year":2007,"month":4,"date":8,"utc":true},{"year":2008,"month":4,"date":8,"utc":true},{"year":2009,"month":4,"date":8,"utc":true},{"year":2010,"month":4,"date":8,"utc":true},{"year":2011,"month":4,"date":8,"utc":true},{"year":2012,"month":4,"date":8,"utc":true},{"year":2013,"month":4,"date":8,"utc":true},{"year":2014,"month":4,"date":8,"utc":true},{"year":2015,"month":4,"date":8,"utc":true},{"year":2016,"month":4,"date":8,"utc":true}],"labels":false,"title":null}},
     "y":{"field":"c","type":"quantitative","scale":{"domain":[0,5000],"nice":false},
      "axis":{"orient":"left","tickCount":100,"values":[0,500,1000,1500,2000,2500,3000,3500,4000,4500,5000],"labelExpr":"datum.value % 1000 == 0 ? '' + datum.value : ''","labelOverlap":false,"title":null}}}},
   {"data":{"name":"m"},"mark":{"type":"line","color":"#ee1a1a","strokeWidth":1.7},
    "encoding":{"x":{"field":"t","type":"temporal"},"y":{"field":"c","type":"quantitative"}}},
   {"data":{"values":[{}]},"mark":{"type":"rule","color":"black","strokeWidth":1.6,"strokeDash":[6,4]},
    "encoding":{"x":{"datum":{"year":2014,"month":1,"date":25,"utc":true},"type":"temporal"}}},
   {"data":{"values":[{}]},"mark":{"type":"rule","color":"black","strokeWidth":1},
    "encoding":{"x":{"datum":{"year":2006,"month":2,"date":28,"utc":true},"type":"temporal"},"x2":{"datum":{"year":2017,"month":4,"date":5,"utc":true}},"y":{"datum":4500,"type":"quantitative"}}},
   {"data":{"values":[{}]},"mark":{"type":"point","shape":"triangle-left","filled":true,"color":"black","opacity":1,"size":28},
    "encoding":{"x":{"datum":{"year":2006,"month":4,"date":20,"utc":true},"type":"temporal"},"y":{"datum":4500,"type":"quantitative"}}},
   {"data":{"values":[{}]},"mark":{"type":"point","shape":"triangle-right","filled":true,"color":"black","opacity":1,"size":28},
    "encoding":{"x":{"datum":{"year":2013,"month":12,"date":4,"utc":true},"type":"temporal"},"y":{"datum":4500,"type":"quantitative"}}},
   {"data":{"values":[{}]},"mark":{"type":"point","shape":"triangle-left","filled":true,"color":"black","opacity":1,"size":28},
    "encoding":{"x":{"datum":{"year":2014,"month":3,"date":17,"utc":true},"type":"temporal"},"y":{"datum":4500,"type":"quantitative"}}},
   {"data":{"values":[{}]},"mark":{"type":"point","shape":"triangle-right","filled":true,"color":"black","opacity":1,"size":28},
    "encoding":{"x":{"datum":{"year":2017,"month":2,"date":12,"utc":true},"type":"temporal"},"y":{"datum":4500,"type":"quantitative"}}},
   {"data":{"values":[{}]},"mark":{"type":"text","text":"Training set","font":"Liberation Serif","fontWeight":"bold","fontSize":10,"color":"black"},
    "encoding":{"x":{"datum":{"year":2010,"month":4,"date":1,"utc":true},"type":"temporal"},"y":{"datum":4740,"type":"quantitative"}}},
   {"data":{"values":[{}]},"mark":{"type":"text","text":"Testing set","font":"Liberation Serif","fontWeight":"bold","fontSize":10,"color":"black"},
    "encoding":{"x":{"datum":{"year":2015,"month":8,"date":25,"utc":true},"type":"temporal"},"y":{"datum":4740,"type":"quantitative"}}},
   {"data":{"values":[{}]},"mark":{"type":"text","text":"(f)","font":"Liberation Serif","fontWeight":"bold","fontSize":14,"align":"left","color":"black"},
    "encoding":{"x":{"datum":{"year":2006,"month":10,"date":20,"utc":true},"type":"temporal"},"y":{"datum":4030,"type":"quantitative"}}},
   {"data":{"values":[{}]},"mark":{"type":"text","text":"XD01","font":"Liberation Serif","fontSize":13.5,"color":"black"},
    "encoding":{"x":{"datum":{"year":2009,"month":7,"date":10,"utc":true},"type":"temporal"},"y":{"datum":2870,"type":"quantitative"}}}
  ]}
 ]}
],
"config":{
 "view":{"stroke":"black","strokeWidth":1.5},
 "axis":{"labelFont":"Liberation Serif","labelFontWeight":"bold","labelFontSize":12.5,"labelColor":"black","titleFont":"Liberation Serif","titleFontWeight":"bold","titleFontSize":13,"titleColor":"black","tickColor":"black","tickWidth":1,"tickSize":-4,"tickCount":100,"domain":false,"grid":false,"labelOverlap":false,"labelFlush":false},
 "axisLeft":{"labelPadding":8.5},
 "axisRight":{"labelPadding":10},
 "axisBottom":{"labelPadding":11,"titlePadding":2},
 "axisTop":{"labelPadding":2}
}
}
